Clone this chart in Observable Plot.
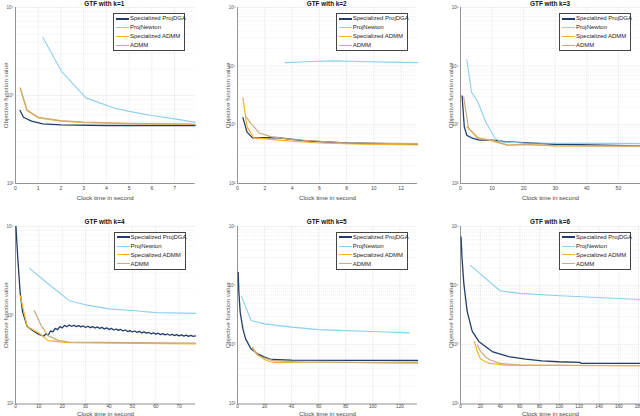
<!DOCTYPE html>
<html><head><meta charset="utf-8">
<script src="https://cdn.jsdelivr.net/npm/d3@7"></script>
<script src="https://cdn.jsdelivr.net/npm/@observablehq/plot@0.6"></script>
<style>
body{margin:0;background:#fff;}
#root{position:relative;width:640px;height:416px;overflow:hidden;font-family:"Liberation Sans",Arial,sans-serif;}
.title{position:absolute;font-weight:bold;font-size:6.4px;color:#111;text-align:center;white-space:nowrap;}
.legend{position:absolute;border:0.6px solid #444;background:#fff;font-size:6px;color:#222;box-sizing:border-box;}
.legend .row{height:9px;line-height:9px;position:relative;white-space:nowrap;}
.legend .sw{position:absolute;left:2px;width:13px;top:4px;}
.legend .lb{position:absolute;left:16px;top:0;}
g[aria-label="x-axis label"], g[aria-label="y-axis label"]{font-size:6.2px;}
</style>
</head><body><div id="root"></div>
<script>
// ---------- data ----------
const seriesNames = ["Specialized ProjDGA", "ProjNewton", "Specialized ADMM", "ADMM"];
const titles = ["GTF with k=1", "GTF with k=2", "GTF with k=3", "GTF with k=4", "GTF with k=5", "GTF with k=6"];

const k1_ProjDGA = [[0.2,676],[0.35,566],[0.7,511],[1.2,476],[2,464],[4,456],[7.9,456]];
const k1_ProjNewton = [[1.2,4600],[2.05,1840],[3.1,940],[4.3,725],[5,660],[6,593],[7,543],[7.9,498]];
const k1_SpecADMM = [[0.2,1220],[0.5,676],[1.0,558],[2,511],[3,490],[5,478],[7.9,468]];
const k1_ADMM = [[0.22,1200],[0.5,690],[1.0,565],[2,518],[3,497],[5,483],[7.9,472]];

const k2_ProjDGA = [[0.4,1330],[0.7,750],[1.1,600],[2.8,608],[5,533],[8,490],[13.2,467]];
const k2_ProjNewton = [[3.5,11500],[5,11900],[7,12300],[9,12000],[11,11700],[13.2,11500]];
const k2_SpecADMM = [[0.4,2880],[0.7,925],[1.2,600],[3,550],[6,490],[9,467],[13.2,457]];
const k2_ADMM = [[0.6,1400],[1.0,1050],[1.6,725],[2.5,623],[4,562],[8,490],[13.2,478]];

const k3_ProjDGA = [[0.5,3100],[1.2,925],[2,660],[4,585],[6,550],[10,550],[15,513],[30,467],[57,437]];
const k3_ProjNewton = [[2,13000],[3.5,3600],[5.5,2450],[8,1120],[11,585],[13,513],[20,490],[57,478]];
const k3_SpecADMM = [[2,925],[5.5,608],[10,533],[15,445],[20,467],[30,437],[57,433]];
const k3_ADMM = [[1,3000],[2.5,900],[5.5,585],[10,550],[15,450],[20,460],[30,440],[57,435]];

const k4_ProjDGA = [[0.2,10000],[0.5,7200],[1,4300],[2,1800],[3,1100],[5,746],[8,656],[10,607],[12,581],
  [13,615],[14,598],[15,665],[16,650],[17,712],[18,690],[19,745],[20,720],[21,770],[22,742],[23,778],[24,748],
  [25,772],[26,745],[27,765],[28,740],[29,758],[30,728],[31,752],[32,725],[33,745],[34,718],[35,738],[36,712],
  [37,730],[38,700],[39,722],[40,690],[41,712],[42,682],[43,700],[44,675],[45,692],[46,665],[47,682],[48,655],
  [49,672],[50,648],[51,665],[52,640],[53,658],[54,632],[55,650],[56,628],[57,640],[58,618],[59,635],[60,612],
  [61,628],[62,605],[63,620],[64,600],[65,615],[66,595],[67,610],[68,590],[69,605],[70,585],[71,600],[72,582],
  [73,596],[74,578],[75,592],[76,578],[77,585]];
const k4_ProjNewton = [[6,3370],[15,2150],[23,1460],[30,1310],[40,1180],[50,1130],[60,1070],[77,1050]];
const k4_SpecADMM = [[2,1660],[5,746],[10,630],[14,518],[20,498],[23,490],[40,485],[77,477]];
const k4_ADMM = [[8,1130],[11,765],[14,590],[18,525],[23,498],[77,485]];

const k5_ProjDGA = [[0.5,16800],[1,7800],[2,3550],[4,1860],[6,1260],[10,850],[15,705],[20,620],[25,565],[40,550],[133,543]];
const k5_ProjNewton = [[3,6540],[10,2580],[20,2260],[40,1990],[60,1810],[80,1740],[100,1680],[127,1590]];
const k5_SpecADMM = [[11,910],[15,680],[20,566],[25,513],[30,500],[60,513],[100,500],[133,500]];
const k5_ADMM = [[11,870],[15,660],[20,596],[27,537],[50,513],[133,490]];

const k6_ProjDGA = [[0.5,67000],[1.5,30000],[3.4,10700],[6.7,3720],[11.8,1700],[18.5,1140],[32,770],[48.8,630],[65.7,575],[82.5,537],[99.3,518],[121,505],[122,485],[182,485]];
const k6_ProjNewton = [[10,22000],[40,8200],[60,7400],[100,6750],[140,6300],[182,5830]];
const k6_SpecADMM = [[14,1140],[17,770],[20,590],[25,518],[30,485],[45,454],[182,443]];
const k6_ADMM = [[17,1000],[20,790],[25,630],[30,553],[40,485],[60,454],[182,443]];

const xTicks1 = [0,1,2,3,4,5,6,7];
const xTicks2 = [0,2,4,6,8,10,12];
const xTicks3 = [0,10,20,30,40,50];
const xTicks4 = [0,10,20,30,40,50,60,70];
const xTicks5 = [0,20,40,60,80,100,120];
const xTicks6 = [0,20,40,60,80,100,120,140,160,180];
const xMax = [7.9, 13.2, 57, 77, 133, 182];
const yDomains = [[1e2,1e4],[1e2,1e5],[1e2,1e5],[1e2,1e4],[1e2,1e5],[1e2,1e5]];

// ---------- style ----------
const seriesColors = ["#213e69", "#8ecff0", "#f3b42a", "#cbab7e"];
const seriesWidths = [1.3, 1.1, 1.2, 1.2];
const legendWidths = [2, 1.2, 1.5, 1.5];

const panelData = [
  [k1_ProjDGA,k1_ProjNewton,k1_SpecADMM,k1_ADMM],
  [k2_ProjDGA,k2_ProjNewton,k2_SpecADMM,k2_ADMM],
  [k3_ProjDGA,k3_ProjNewton,k3_SpecADMM,k3_ADMM],
  [k4_ProjDGA,k4_ProjNewton,k4_SpecADMM,k4_ADMM],
  [k5_ProjDGA,k5_ProjNewton,k5_SpecADMM,k5_ADMM],
  [k6_ProjDGA,k6_ProjNewton,k6_SpecADMM,k6_ADMM]
];
const panelTicks = [xTicks1,xTicks2,xTicks3,xTicks4,xTicks5,xTicks6];
const layout = [
  {x0:14.5,x1:194,y0:7,y1:183,tp:3,lo:16,fs:5},
  {x0:236.7,x1:416.7,y0:7,y1:183,tp:3,lo:16,fs:5},
  {x0:460,x1:640,y0:7,y1:183,tp:3,lo:16,fs:5},
  {x0:14.5,x1:194.5,y0:225.7,y1:403.2,tp:0.5,lo:11.5,fs:4.6},
  {x0:236.7,x1:416.7,y0:225.7,y1:403.2,tp:0.5,lo:11.5,fs:4.6},
  {x0:460,x1:640,y0:225.7,y1:403.2,tp:0.5,lo:11.5,fs:4.6}
];
const sup = {"0":"⁰","1":"¹","2":"²","3":"³","4":"⁴","5":"⁵","6":"⁶","7":"⁷","8":"⁸","9":"⁹"};
const supFmt = d => "10" + String(Math.round(Math.log10(d))).split("").map(c => sup[c]).join("");

const root = document.getElementById("root");
layout.forEach((L, i) => {
  const padL = 16, padR = 2, padT = 7, padB = 24;
  const w = L.x1 - L.x0 + padL + padR, h = L.y1 - L.y0 + padT + padB;
  const [ylo, yhi] = yDomains[i];
  const yMajor = [], yMinor = [];
  for (let e = Math.log10(ylo); e <= Math.log10(yhi) + 1e-9; e++) {
    yMajor.push(Math.pow(10, e));
    if (e < Math.log10(yhi) - 1e-9) for (let m = 2; m <= 9; m++) yMinor.push(m * Math.pow(10, e));
  }
  const marks = [
    Plot.ruleY(yMinor, {stroke: "#dedede", strokeWidth: 0.5, strokeDasharray: "1,1"}),
    Plot.ruleY(yMajor, {stroke: "#e2e2e2", strokeWidth: 0.5}),
    Plot.ruleX(panelTicks[i], {stroke: "#e2e2e2", strokeWidth: 0.5}),
    Plot.axisX({ticks: panelTicks[i], tickSize: 0, tickPadding: L.tp, fontSize: L.fs, color: "#444",
      label: "Clock time in second", labelAnchor: "center", labelArrow: "none", labelOffset: L.lo}),
    Plot.axisY({ticks: yMajor, tickFormat: supFmt, tickSize: 0, tickPadding: 2, fontSize: 4.5, color: "#555",
      label: "Objective function value", labelAnchor: "center", labelArrow: "none", labelOffset: 12})
  ];
  panelData[i].forEach((series, s) => {
    marks.push(Plot.line(series, {x: d => d[0], y: d => d[1], stroke: seriesColors[s], strokeWidth: seriesWidths[s]}));
  });
  marks.push(Plot.ruleX([0], {stroke: "#555", strokeWidth: 0.6}));
  marks.push(Plot.ruleY([ylo], {stroke: "#555", strokeWidth: 0.6}));
  const chart = Plot.plot({
    width: w, height: h, marginLeft: padL, marginRight: padR, marginTop: padT, marginBottom: padB,
    style: {fontFamily: "'Liberation Sans', Arial, sans-serif", background: "transparent", overflow: "visible", color: "#333"},
    x: {domain: [0, xMax[i]]},
    y: {type: "log", domain: yDomains[i]},
    marks
  });
  chart.style.position = "absolute";
  chart.style.left = (L.x0 - padL) + "px";
  chart.style.top = (L.y0 - padT) + "px";
  root.appendChild(chart);

  const t = document.createElement("div");
  t.className = "title";
  t.textContent = titles[i];
  t.style.left = L.x0 + "px";
  t.style.width = (L.x1 - L.x0) + "px";
  t.style.top = (L.y0 - 7.5) + "px";
  root.appendChild(t);

  const lg = document.createElement("div");
  lg.className = "legend";
  lg.style.left = (L.x1 - 9 - 72) + "px";
  lg.style.top = (L.y0 + 6) + "px";
  lg.style.width = "72px";
  lg.style.height = "38px";
  seriesNames.forEach((n, s) => {
    const r = document.createElement("div");
    r.className = "row";
    const sw = document.createElement("div");
    sw.className = "sw";
    sw.style.borderTop = legendWidths[s] + "px solid " + seriesColors[s];
    sw.style.top = (4.5 - legendWidths[s] / 2) + "px";
    const lb = document.createElement("div");
    lb.className = "lb";
    lb.textContent = n;
    r.appendChild(sw); r.appendChild(lb);
    lg.appendChild(r);
  });
  root.appendChild(lg);
});
</script>
</body></html>
